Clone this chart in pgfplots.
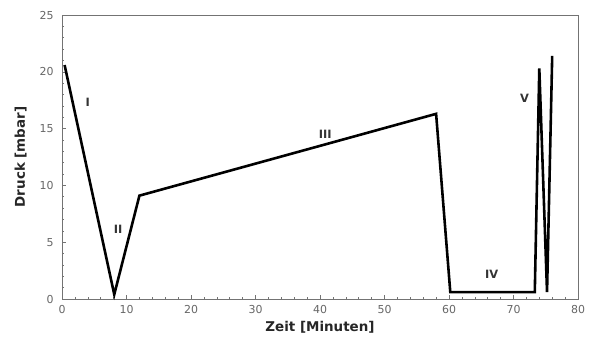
\documentclass[border=0pt]{standalone}
\usepackage{pgfplots}
\pgfplotsset{compat=1.18}
\usepackage{fontspec}
\setmainfont{DejaVu Sans}
\begin{document}
\begin{tikzpicture}[x=1bp,y=1bp]
\begin{axis}[
  scale only axis,
  width=516bp, height=284bp,
  xmin=0, xmax=80, ymin=0, ymax=25,
  xtick={0,10,...,80}, ytick={0,5,...,25},
  minor x tick num=4, minor y tick num=4,
  xtick pos=left, ytick pos=left,
  tick align=inside,
  major tick length=4bp, minor tick length=2bp,
  axis line style={draw=black!55, line width=0.8pt},
  every tick/.style={black!55, line width=0.6pt},
  tick label style={font=\fontsize{11}{12}\selectfont, text=black!60},
  yticklabel style={xshift=-5bp},
  xticklabel style={yshift=-3bp},
  /pgf/number format/assume math mode=true,
  xlabel={\textbf{Zeit [Minuten]}},
  ylabel={\textbf{Druck [mbar]}},
  label style={font=\fontsize{13.5}{15}\selectfont, text=black!85},
  xlabel style={yshift=-1bp},
  ylabel style={yshift=6bp},
  clip=false,
]
\addplot[black, line width=2.6pt, line join=miter, miter limit=20] coordinates {
  (0.4,20.6) (8.1,0.4) (12.0,9.1) (58.0,16.3) (60.2,0.6) (73.3,0.6)
  (74.0,20.3) (75.2,0.6) (76.0,21.4)
};
\tikzset{rn/.style={font=\fontsize{11.5}{13}\selectfont\bfseries, text=black!80}}
\node[rn] at (axis cs:4.0,17.3) {I};
\node[rn] at (axis cs:8.7,6.1) {II};
\node[rn] at (axis cs:40.8,14.5) {III};
\node[rn] at (axis cs:66.6,2.2) {IV};
\node[rn] at (axis cs:71.7,17.7) {V};
\path (rel axis cs:-0.1202,-0.1444) rectangle (rel axis cs:1.0349,1.0529);
\end{axis}
\end{tikzpicture}
\end{document}
